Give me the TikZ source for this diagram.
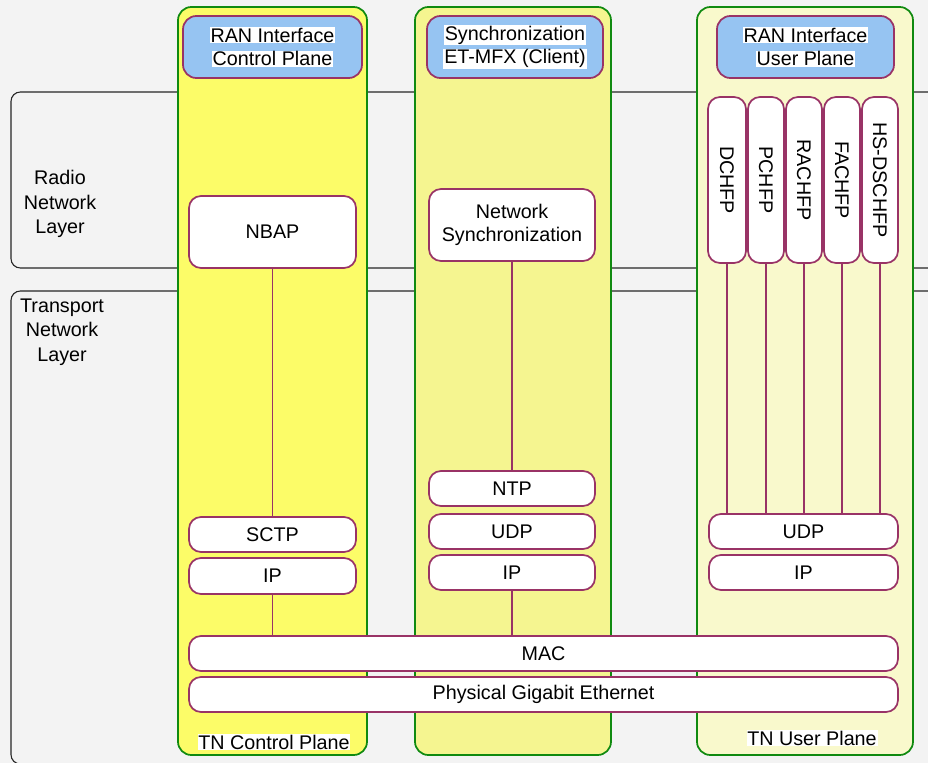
\documentclass[tikz,border=0pt]{standalone}
\usepackage{fontspec}
\setmainfont{Liberation Sans}
\definecolor{bgc}{HTML}{F3F3F3}
\definecolor{grn}{HTML}{108A10}
\definecolor{pur}{HTML}{993366}
\definecolor{hdrc}{HTML}{96C4F2}
\definecolor{coa}{HTML}{FCFC68}
\definecolor{cob}{HTML}{F5F590}
\definecolor{coc}{HTML}{F9F9CC}
\newcommand\hl[1]{{\setlength{\fboxsep}{0.6pt}\colorbox{white}{#1}}}
\newcommand\mkbox[7]{%
  \pgfmathsetmacro\bw{(#5-#3)*0.75}\pgfmathsetmacro\bh{(#6-#4)*0.75}%
  \node[#1, minimum width=\bw pt, minimum height=\bh pt] (#2) at ({(#3+#5)/2},{(#4+#6)/2}) {#7};}
\begin{document}
\begin{tikzpicture}[x=0.75pt,y=-0.75pt,
  font=\fontsize{14.8}{17.4}\selectfont,
  lay/.style={draw=black!85, line width=0.8pt, fill=bgc, rounded corners=7},
  col/.style={draw=grn, line width=1.3pt, rounded corners=10, inner sep=0pt},
  hdr/.style={draw=pur, line width=1.3pt, fill=hdrc, rounded corners=10, align=center, inner sep=0pt},
  pbox/.style={draw=pur, line width=1.3pt, fill=white, rounded corners=9, align=center, inner sep=0pt},
  link/.style={draw=pur, line width=1pt},
  lbl/.style={align=center, inner sep=0pt},
  laylbl/.style={align=center, inner sep=0pt, font=\fontsize{14.8}{18.4}\selectfont}]
\useasboundingbox (0,0) rectangle (928,763);
\clip (0,0) rectangle (928,763);
\fill[bgc] (0,0) rectangle (928,763);
% layers
\draw[lay] (11,92) rectangle (960,268);
\draw[lay] (11,291) rectangle (960,764);
\node[laylbl] (rnl) at (60,204) {Radio\\Network\\Layer};
\node[laylbl] (tnl) at (62,332) {Transport\\Network\\Layer};
% columns
\mkbox{col,fill=coa}{c1}{178}{7}{367}{755}{}
\mkbox{col,fill=cob}{c2}{415}{7}{611}{755}{}
\mkbox{col,fill=coc}{c3}{697}{7}{913}{755}{}
% headers
\mkbox{hdr}{h1}{183}{16}{362}{78}{\hl{RAN Interface}\\\hl{Control Plane}}
\mkbox{hdr}{h2}{427}{16}{603}{78}{\hl{Synchronization}\\\hl{ET-MFX (Client)}}
\mkbox{hdr}{h3}{717}{16}{894}{78}{\hl{RAN Interface}\\\hl{User Plane}}
% control plane
\mkbox{pbox}{nbap}{189}{196}{356}{268}{NBAP}
\mkbox{pbox}{sctp}{189}{517}{356}{552}{SCTP}
\mkbox{pbox}{ipa}{189}{558}{356}{594}{IP}
% sync
\mkbox{pbox}{nsync}{429}{189}{595}{261}{Network\\Synchronization}
\mkbox{pbox}{ntp}{429}{471}{595}{506}{NTP}
\mkbox{pbox}{udpb}{429}{514}{595}{549}{UDP}
\mkbox{pbox}{ipb}{429}{555}{595}{590}{IP}
% user plane
\mkbox{pbox}{dch}{708}{97}{746}{263}{\rotatebox{-90}{DCHFP}}
\mkbox{pbox}{pch}{748}{97}{784}{263}{\rotatebox{-90}{PCHFP}}
\mkbox{pbox}{rach}{786}{97}{822}{263}{\rotatebox{-90}{RACHFP}}
\mkbox{pbox}{fach}{824}{97}{860}{263}{\rotatebox{-90}{FACHFP}}
\mkbox{pbox}{hsd}{862}{97}{898}{263}{\rotatebox{-90}{HS-DSCHFP}}
\mkbox{pbox}{udpc}{709}{514}{898}{549}{UDP}
\mkbox{pbox}{ipc}{709}{555}{898}{590}{IP}
% common
\mkbox{pbox}{mac}{189}{636}{898}{671}{MAC}
\mkbox{pbox}{phy}{189}{677}{898}{712}{Physical Gigabit Ethernet}
% column labels
\node[lbl] (tncp) at (274,742) {\hl{TN Control Plane}};
\node[lbl] (tnup) at (812,738) {\hl{TN User Plane}};
% links
\draw[link] (nbap.south) -- (sctp.north);
\draw[link] (ipa.south) -- (ipa.south |- mac.north);
\draw[link] (nsync.south) -- (ntp.north);
\draw[link] (ipb.south) -- (ipb.south |- mac.north);
\foreach \n in {dch,pch,rach,fach,hsd}
  \draw[link] (\n.south) -- (\n.south |- udpc.north);
\end{tikzpicture}
\end{document}
